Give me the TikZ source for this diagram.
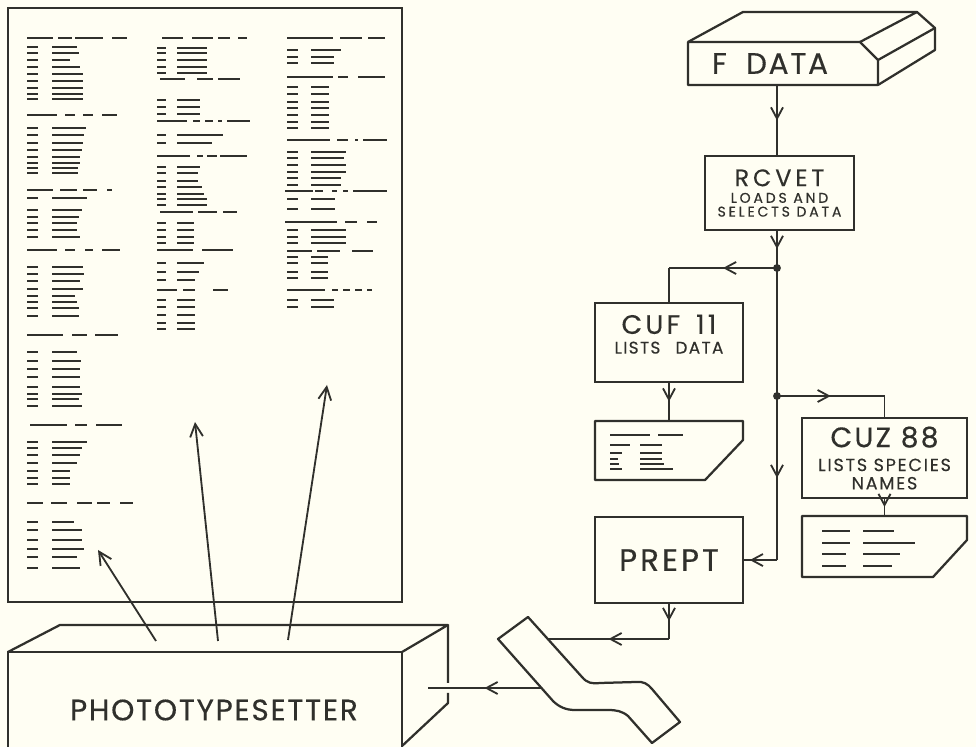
\documentclass[tikz,border=0pt]{standalone}
\usepackage{fontspec}
\setmainfont{Poppins}[FakeBold=0.4]
\usetikzlibrary{arrows.meta,positioning,decorations.markings}
\definecolor{paper}{RGB}{255,254,243}
\definecolor{ink}{RGB}{48,48,44}
\newcommand{\track}[1]{\addfontfeature{LetterSpace=#1}}
\tikzset{
  box/.style      ={draw=ink,line width=1.6pt,inner sep=0pt,outer sep=0pt,align=center,text=ink},
  face/.style     ={inner sep=0pt,outer sep=0pt,align=center,text=ink},
  outline/.style  ={draw=ink,line width=1.6pt,line join=round},
  flow/.style     ={draw=ink,line width=1.3pt},
  midarrow/.style ={postaction={decorate},decoration={markings,
                    mark=at position #1 with {\arrow{Straight Barb[length=2.8mm,width=3mm]}}}},
  midarrow/.default=0.5,
  beam/.style     ={draw=ink,line width=1.3pt,-{Straight Barb[length=3.2mm,width=3.2mm]}},
  txtbar/.style   ={draw=ink,line width=1.9pt}
}

\begin{document}
\begin{tikzpicture}[x=0.025cm,y=-0.025cm]
  \useasboundingbox (0,0) rectangle (976,747);
  \fill[paper] (0,0) rectangle (976,747);
  \clip (0,0) rectangle (976,747);

  % printed page
  \node[box,minimum width=9.85cm,minimum height=14.85cm] (page) at (205,305) {};
  % column 1
  \foreach \y/\segs in {38/{27/53,58/72,75/103,112/127},115/{27/57,65/75,83/93,102/117},
      190/{27/53,60/77,83/97,107/112},250/{27/57,65/75,85/93,102/120},335/{27/63,72/87,95/118},
      425/{30/67,75/87,96/122},503/{27/43,51/67,77/92,97/110,120/133}}
    \foreach \a/\b in \segs {\draw[txtbar] (\a,\y) -- (\b,\y);}
  \foreach \y/\l in {47/25,53/27,60/18,67/28,74/31,81/31,88/31,94/31,99/31,
      128/34,135/32,143/31,150/30,157/28,163/28,168/26,173/26,198/35,
      210/30,217/27,223/25,230/25,237/28,267/31,274/32,281/28,289/31,296/23,302/25,308/27,316/27,
      352/25,361/29,369/28,377/28,387/28,394/30,399/27,406/30,
      442/35,448/30,455/28,463/25,471/18,478/18,484/18,522/22,530/30,540/30,549/32,557/25,568/28}
    \draw[txtbar] (27,\y) -- ++(11,0) (52,\y) -- ++(\l,0);
  % column 2
  \foreach \y/\segs in {38/{162/183,192/213,218/230,238/247},79/{160/185,197/213,218/240},
      121/{157/187,193/200,205/213,218/222,227/250},156/{157/190,197/203,207/217,220/247},
      212/{160/193,198/217,223/237},250/{157/193,202/233},290/{157/177,183/195,213/228}}
    \foreach \a/\b in \segs {\draw[txtbar] (\a,\y) -- (\b,\y);}
  \foreach \y/\l in {48/30,53/30,60/30,67/30,73/30,100/23,107/23,114/23,135/46,143/35,
      167/23,173/21,181/21,187/25,194/27,199/30,205/30,223/17,230/17,237/17,243/17,
      263/27,272/22,280/18,300/18,307/18,315/18,323/18,329/18}
    \draw[txtbar] (157,\y) -- ++(9,0) (177,\y) -- ++(\l,0);
  % column 3
  \foreach \y/\segs in {38/{287/333,340/362,368/385},77/{287/333,338/348,358/385},
      140/{287/330,337/348,355/358,363/387},191/{285/313,315/323,332/337,343/348,353/387},
      222/{285/337,345/357,367/377},251/{287/312,317/340,352/373},
      290/{287/325,332/338,343/350,355/362,367/372}}
    \foreach \a/\b in \segs {\draw[txtbar] (\a,\y) -- (\b,\y);}
  \foreach \y/\l in {50/30,57/23,63/23,87/18,94/18,102/18,108/18,115/18,122/18,128/18,
      152/35,158/33,165/35,172/35,178/30,185/30,199/24,209/24,230/35,237/35,243/35,
      257/17,263/17,272/17,278/17,300/23,307/23}
    \draw[txtbar] (287,\y) -- ++(11,0) (311,\y) -- ++(\l,0);

  % phototypesetter
  \node[box,minimum width=9.85cm,minimum height=2.9cm,font=\fontsize{21}{21}\selectfont\track{6}] (pts) at (205,710)
       {\hspace*{0.45cm}PHOTOTYPESETTER};
  \draw[outline] (pts.north west) -- ++(52,-27) -- ++(388,0) -- (pts.north east);
  \draw[outline] (pts.north east) ++(46,-27) -- ++(0,58) ++(0,10) -- ++(0,10) -- ++(-46,43);
  \coordinate (ptsin) at (428,688);

  % boxes on the right
  \node[face,minimum width=4.75cm,minimum height=1.075cm,text width=3.55cm,inner xsep=0.6cm,align=left,
        font=\fontsize{21}{21}\selectfont\track{6}] (fdata) at (783,63.5) {F\hspace{0.65em}DATA};
  \draw[outline] (fdata.south west) -- (fdata.north west) -- ++(172,0) -- ++(18,18) -- (fdata.south east) -- cycle;
  \draw[outline] (fdata.north west) -- ++(55,-30) -- ++(174,0) -- ++(18,16) -- ++(0,22) -- ++(-57,35);
  \draw[outline] (fdata.north west) ++(172,0) -- ++(57,-30);
  \draw[outline] (fdata.north east) ++(0,18) -- ++(57,-32);

  \node[box,minimum width=3.725cm,minimum height=1.85cm,font=\fontsize{10}{9.8}\selectfont\track{20}] (rcvet) at (779.5,193)
       {{\fontsize{17}{17}\selectfont\track{16}RCVET}\\[2pt]LOADS AND\\SELECTS DATA};
  \node[box,minimum width=3.7cm,minimum height=1.975cm,text depth=12pt,font=\fontsize{12}{13}\selectfont\track{8}] (cuf) at (669,342.5)
       {{\fontsize{19}{19}\selectfont\track{12}CUF\hspace{0.6em}11}\\[1pt]LISTS\hspace{0.9em}DATA};
  \node[face,minimum width=3.7cm,minimum height=1.475cm,below=0.975cm of cuf] (cufdoc) {};
  \node[box,minimum width=3.7cm,minimum height=2.15cm,below=0.925cm of cufdoc,font=\fontsize{22}{22}\selectfont\track{10}] (prept) {PREPT};
  \node[box,minimum width=4.125cm,minimum height=2cm,font=\fontsize{12.5}{13}\selectfont\track{10}] (cuz) at (884.5,458)
       {{\fontsize{20}{20}\selectfont\track{8}CUZ\hspace{0.35em}88}\\[4pt]LISTS SPECIES\\NAMES};
  \node[face,minimum width=4.125cm,minimum height=1.525cm,below=0.45cm of cuz] (cuzdoc) {};

  % listings
  \draw[outline] (cufdoc.north west) -- (cufdoc.north east) -- ++(0,19) -- ++(-38,40) -- (cufdoc.south west) -- cycle;
  \draw[txtbar] (610,435) -- (650,435) (658,435) -- (683,435);
  \foreach \y/\s/\l in {445/20/22,453/12/22,459/8/22,464/9/24,469/12/33}
    \draw[txtbar] (610,\y) -- ++(\s,0) (640,\y) -- ++(\l,0);
  \draw[outline] (cuzdoc.north west) -- (cuzdoc.north east) -- ++(0,24) -- ++(-34,37) -- (cuzdoc.south west) -- cycle;
  \foreach \y/\s/\l in {531/28/31,543/28/52,554/24/37,566/24/29}
    \draw[txtbar] (822,\y) -- ++(\s,0) (863,\y) -- ++(\l,0);

  % paper tape
  \draw[outline] (498,639) -- (528,617) -- (582,677) .. controls (587,683) and (592,684) .. (600,683)
      -- (636,682) .. controls (643,681) and (648,684) .. (652,689) -- (680,722) -- (652,743)
      -- (628,716) .. controls (622,711) and (616,710) .. (608,710) -- (575,710)
      .. controls (566,710) and (559,707) .. (553,701) -- cycle;
  \coordinate (tapein) at (548,639);
  \coordinate (tapeout) at (541,688);

  % connectors
  \coordinate (j1) at (777,268);
  \coordinate (j2) at (777,396);
  \draw[flow,midarrow] (fdata.south -| j1) -- (rcvet.north -| j1);
  \draw[flow,midarrow] (rcvet.south -| j1) -- (j1);
  \draw[flow,midarrow] (j1) -- (j1 -| cuf.north);
  \draw[flow] (j1 -| cuf.north) -- (cuf.north);
  \draw[flow] (j1) -- (j2);
  \draw[flow,midarrow] (j2) -- (j2 -| cuz.north);
  \draw[flow] (j2 -| cuz.north) -- (cuz.north);
  \draw[flow,midarrow] (j2) -- (j2 |- prept.east);
  \draw[flow,midarrow=0.8] (j2 |- prept.east) -- (prept.east);
  \fill[ink] (j1) circle (2.8pt) (j2) circle (2.8pt);
  \draw[flow,midarrow] (cuf.south) -- (cufdoc.north);
  \draw[flow,midarrow] (cuz.south) -- (cuzdoc.north);
  \draw[flow,midarrow] (prept.south) -- (prept.south |- tapein);
  \draw[flow,midarrow] (prept.south |- tapein) -- (tapein);
  \draw[flow,midarrow] (tapeout) -- (ptsin);

  % exposure onto the page
  \coordinate (b1) at (156,641);
  \coordinate (b2) at (218,641);
  \coordinate (b3) at (288,640);
  \coordinate (t1) at (98,550);
  \coordinate (t2) at (195,422);
  \coordinate (t3) at (327,385);
  \draw[beam] (b1) -- (t1);
  \draw[beam] (b2) -- (t2);
  \draw[beam] (b3) -- (t3);
\end{tikzpicture}
\end{document}
